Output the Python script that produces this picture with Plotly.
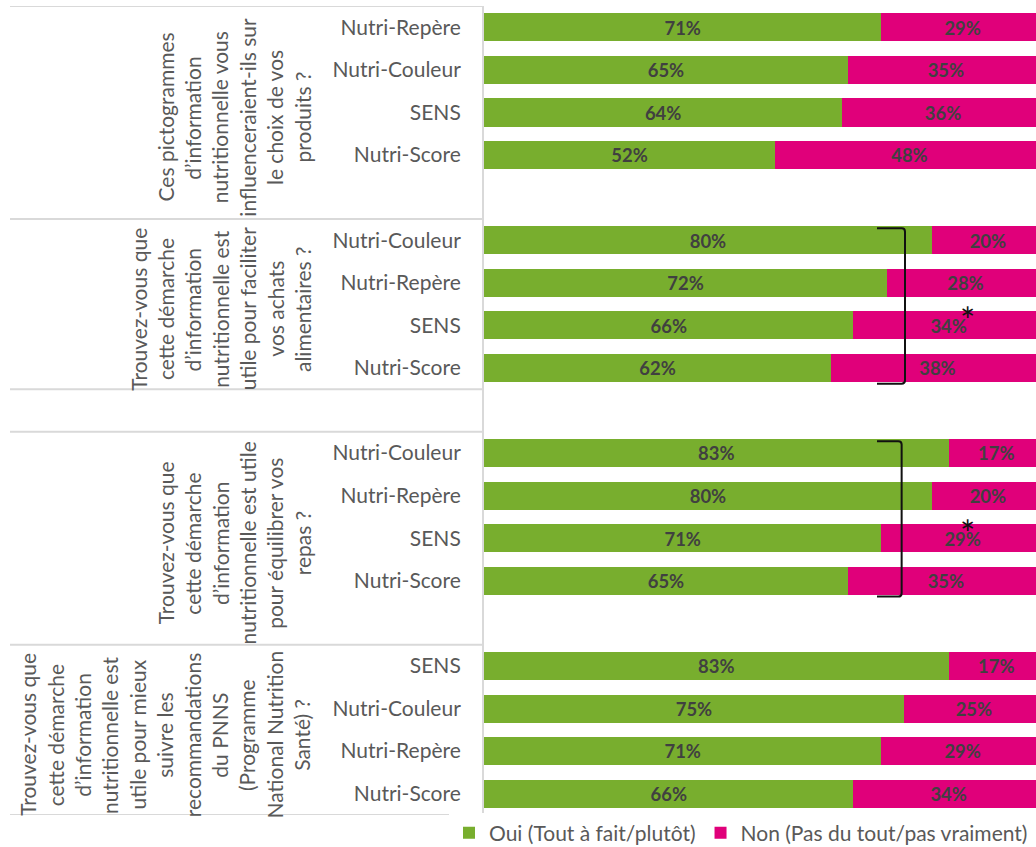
import plotly.graph_objects as go

# ---------------- data ----------------
q1_lines = ["Ces pictogrammes", "d’information", "nutritionnelle vous",
            "influenceraient-ils sur", "le choix de vos", "produits ?"]
q1_labels = ["Nutri-Repère", "Nutri-Couleur", "SENS", "Nutri-Score"]
q1_oui = [71, 65, 64, 52]
q1_non = [29, 35, 36, 48]

q2_lines = ["Trouvez-vous que", "cette démarche", "d’information",
            "nutritionnelle est", "utile pour faciliter", "vos achats",
            "alimentaires ?"]
q2_labels = ["Nutri-Couleur", "Nutri-Repère", "SENS", "Nutri-Score"]
q2_oui = [80, 72, 66, 62]
q2_non = [20, 28, 34, 38]

q3_lines = ["Trouvez-vous que", "cette démarche", "d’information",
            "nutritionnelle est utile", "pour équilibrer vos", "repas ?"]
q3_labels = ["Nutri-Couleur", "Nutri-Repère", "SENS", "Nutri-Score"]
q3_oui = [83, 80, 71, 65]
q3_non = [17, 20, 29, 35]

q4_lines = ["Trouvez-vous que", "cette démarche", "d’information",
            "nutritionnelle est", "utile pour mieux", "suivre les",
            "recommandations", "du PNNS", "(Programme",
            "National Nutrition", "Santé) ?"]
q4_labels = ["SENS", "Nutri-Couleur", "Nutri-Repère", "Nutri-Score"]
q4_oui = [83, 75, 71, 66]
q4_non = [17, 25, 29, 34]

legend_oui = "Oui (Tout à fait/plutôt)"
legend_non = "Non (Pas du tout/pas vraiment)"
significance_mark = "*"

# ---------------- layout of category slots ----------------
groups = [
    (q1_lines, q1_labels, q1_oui, q1_non, 5, False),
    (q2_lines, q2_labels, q2_oui, q2_non, 4, True),
    (None, [], [], [], 1, False),  # empty spacer group
    (q3_lines, q3_labels, q3_oui, q3_non, 5, True),
    (q4_lines, q4_labels, q4_oui, q4_non, 4, False),
]

GREEN = "#78AE2E"
PINK = "#E0007A"
GRID = "#D9D9D9"
TXT = "#595959"
LBL = "#404040"
FONT = "Lato"
FS = 21

ys, labels, oui, non = [], [], [], []
boundaries = [-0.5]
group_spans = []
slot = 0
for lines, labs, o, n, nslots, br in groups:
    start = slot
    for i, lab in enumerate(labs):
        ys.append(slot + i)
        labels.append(lab)
        oui.append(o[i])
        non.append(n[i])
    slot += nslots
    boundaries.append(slot - 0.5)
    group_spans.append((start, slot, lines, len(labs), br))
total_slots = slot

L_MARGIN, R_MARGIN, T_MARGIN, B_MARGIN = 484, 0, 6, 32
W, H = 1036, 847
PLOT_W = W - L_MARGIN - R_MARGIN
PLOT_H = H - T_MARGIN - B_MARGIN
X_MAX = 98.6

fig = go.Figure()
fig.add_trace(go.Bar(
    y=ys, x=oui, orientation="h", name=legend_oui,
    marker=dict(color=GREEN, line=dict(width=0)),
    text=[f"{v}%" for v in oui], textposition="inside",
    insidetextanchor="middle",
    textfont=dict(family=FONT, size=20, color=LBL, weight="bold"),
    width=0.66,
))
fig.add_trace(go.Bar(
    y=ys, x=non, orientation="h", name=legend_non,
    marker=dict(color=PINK, line=dict(width=0)),
    text=[f"{v}%" for v in non], textposition="inside",
    insidetextanchor="middle",
    textfont=dict(family=FONT, size=20, color=LBL, weight="bold"),
    width=0.66,
))

shapes = []
for b in boundaries:
    shapes.append(dict(type="line", xref="paper", yref="y",
                       x0=-(L_MARGIN - 10) / PLOT_W, x1=0,
                       y0=b, y1=b, line=dict(color=GRID, width=2)))

annotations = []
LINE_SP = 27.4
for start, end, lines, nbars, br in group_spans:
    if not lines:
        continue
    center = (start + end - 1) / 2.0
    nl = len(lines)
    for k, line in enumerate(lines):
        annotations.append(dict(
            xref="paper", yref="y", x=0, y=center, yshift=-5,
            xshift=-(484 - 302) - (nl - 1 - k) * LINE_SP,
            text=line, showarrow=False, textangle=-90,
            xanchor="center", yanchor="middle",
            font=dict(family=FONT, size=FS, color=TXT)))
    if br:
        x0 = 70.2
        x1 = 75.2 if start < 9 else 74.6
        top = start - 0.28
        bot = start + nbars - 1 + 0.37
        c = 0.08
        cx = 0.6
        path = (f"M {x0},{top} L {x1-cx},{top} Q {x1},{top} {x1},{top+c} "
                f"L {x1},{bot-c} Q {x1},{bot} {x1-cx},{bot} L {x0},{bot}")
        shapes.append(dict(type="path", xref="x", yref="y", path=path,
                           line=dict(color="#111111", width=2)))
        sens_y = start + 2
        annotations.append(dict(
            xref="x", yref="y", x=86.4, y=sens_y, yshift=5,
            text=significance_mark, showarrow=False,
            font=dict(family=FONT, size=36, color="#111111"),
            xanchor="center", yanchor="middle"))

fig.update_layout(
    width=W, height=H,
    margin=dict(l=L_MARGIN, r=R_MARGIN, t=T_MARGIN, b=B_MARGIN,
                autoexpand=False),
    barmode="stack",
    plot_bgcolor="white", paper_bgcolor="white",
    font=dict(family=FONT, color=TXT),
    xaxis=dict(range=[0, X_MAX], showgrid=False, zeroline=False,
               showticklabels=False, showline=False, fixedrange=True),
    yaxis=dict(range=[total_slots - 0.5, -0.5], tickvals=ys, ticktext=labels,
               showgrid=False, zeroline=False, showline=True,
               linecolor=GRID, linewidth=2, ticks="",
               ticklabelstandoff=17, automargin=False,
               tickfont=dict(family=FONT, size=FS, color=TXT)),
    legend=dict(orientation="h", x=(449 - L_MARGIN) / PLOT_W, xanchor="left",
                y=-(833 - (H - B_MARGIN)) / PLOT_H, yanchor="middle",
                font=dict(family=FONT, size=FS, color=TXT),
                itemwidth=30, traceorder="normal"),
    shapes=shapes, annotations=annotations,
)

fig.write_html("out.html")
